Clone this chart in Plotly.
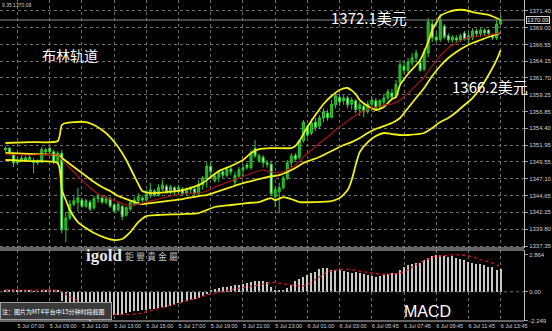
import plotly.graph_objects as go

# ---------------- data ----------------
opens = [1351.3, 1351.5, 1350.8, 1349.4, 1349.8, 1350.1, 1349.8, 1349.4, 1349.7, 1349.5,
         1351.3, 1351.5, 1351.0, 1349.5, 1350.8, 1339.7, 1341.4, 1343.4, 1343.7, 1344.0,
         1343.1, 1343.7, 1342.9, 1344.2, 1344.3, 1343.7, 1344.2, 1343.3, 1342.6, 1343.1,
         1341.8, 1342.7, 1343.4, 1343.9, 1344.3, 1344.0, 1344.7, 1345.3, 1344.7, 1345.6,
         1346.0, 1345.2, 1345.8, 1345.2, 1345.6, 1345.0, 1345.5, 1345.6, 1345.0, 1346.2,
         1347.1, 1348.9, 1346.8, 1347.3, 1348.1, 1347.6, 1348.5, 1346.6, 1347.5, 1348.4,
         1349.1, 1348.7, 1351.5, 1349.7, 1350.2, 1349.4, 1349.2, 1344.5, 1345.2, 1345.8,
         1347.2, 1349.4, 1350.5, 1350.2, 1352.6, 1354.6, 1353.7, 1355.3, 1354.7, 1355.9,
         1356.6, 1356.0, 1357.8, 1358.9, 1358.4, 1358.8, 1357.9, 1358.4, 1357.2, 1357.6,
         1356.9, 1357.9, 1358.4, 1357.5, 1358.2, 1358.8, 1359.5, 1359.1, 1361.0, 1363.4,
         1362.8, 1363.9, 1364.6, 1363.9, 1363.0, 1365.3, 1369.5, 1367.6, 1367.3, 1369.2,
         1367.8, 1367.2, 1367.5, 1367.2, 1368.2, 1367.3, 1367.6, 1368.5, 1368.1, 1368.6,
         1368.6, 1367.9, 1367.5, 1369.5]
closes = [1351.5, 1350.8, 1349.4, 1349.8, 1350.1, 1349.8, 1350.2, 1349.7, 1349.4, 1351.3,
          1351.0, 1351.0, 1349.5, 1350.8, 1339.7, 1341.4, 1343.4, 1343.9, 1344.3, 1343.1,
          1343.9, 1342.7, 1344.2, 1344.5, 1343.7, 1344.2, 1343.1, 1342.4, 1343.4, 1341.6,
          1342.9, 1343.6, 1344.0, 1344.5, 1344.0, 1344.9, 1345.5, 1344.7, 1345.8, 1346.2,
          1345.2, 1345.9, 1345.2, 1345.8, 1344.9, 1345.5, 1345.8, 1345.0, 1346.3, 1347.2,
          1348.9, 1348.1, 1347.5, 1348.1, 1347.6, 1348.5, 1348.1, 1347.6, 1348.4, 1348.7,
          1348.7, 1350.8, 1350.4, 1350.4, 1349.4, 1349.2, 1344.9, 1345.5, 1345.8, 1347.2,
          1349.4, 1350.4, 1349.9, 1352.6, 1355.3, 1353.4, 1355.2, 1354.5, 1355.9, 1356.8,
          1355.9, 1357.9, 1359.1, 1358.2, 1358.8, 1357.8, 1358.5, 1357.1, 1357.8, 1356.8,
          1357.9, 1358.5, 1357.3, 1358.4, 1358.8, 1359.7, 1358.9, 1360.8, 1363.6, 1362.8,
          1364.0, 1364.6, 1365.3, 1362.8, 1365.5, 1369.8, 1367.5, 1367.2, 1370.1, 1367.6,
          1367.2, 1367.6, 1367.2, 1367.8, 1367.3, 1367.8, 1368.5, 1368.1, 1368.6, 1368.2,
          1368.1, 1367.5, 1369.5, 1370.09]
highs = [1351.8, 1351.7, 1351.0, 1350.2, 1350.5, 1350.4, 1350.5, 1350.1, 1349.9, 1351.7,
         1351.5, 1351.8, 1351.3, 1351.1, 1351.3, 1342.3, 1344.0, 1344.5, 1345.8, 1344.3,
         1344.2, 1344.0, 1344.6, 1344.9, 1344.6, 1344.6, 1344.5, 1343.6, 1343.7, 1343.3,
         1343.1, 1343.9, 1344.5, 1345.0, 1344.7, 1345.5, 1346.5, 1345.6, 1346.3, 1346.9,
         1346.3, 1346.2, 1346.0, 1346.2, 1345.9, 1345.8, 1346.0, 1345.9, 1346.9, 1347.5,
         1349.5, 1349.5, 1347.9, 1348.4, 1348.4, 1348.9, 1348.8, 1348.1, 1348.8, 1349.2,
         1349.4, 1351.3, 1352.7, 1350.7, 1350.5, 1349.8, 1349.7, 1346.0, 1346.5, 1347.5,
         1349.8, 1350.8, 1350.8, 1352.7, 1355.6, 1354.9, 1355.8, 1355.9, 1356.3, 1357.3,
         1357.1, 1358.5, 1359.7, 1359.4, 1359.2, 1359.1, 1358.9, 1358.6, 1358.2, 1357.9,
         1358.4, 1358.9, 1358.8, 1358.6, 1359.4, 1360.1, 1360.1, 1361.4, 1364.3, 1364.0,
         1364.6, 1365.3, 1365.8, 1364.3, 1366.0, 1370.4, 1370.1, 1368.2, 1371.0, 1369.5,
         1368.2, 1367.9, 1367.9, 1368.1, 1368.5, 1368.2, 1368.9, 1368.8, 1368.9, 1368.9,
         1368.8, 1368.1, 1370.1, 1370.8]
lows = [1351.0, 1350.5, 1348.8, 1349.1, 1349.7, 1349.5, 1349.7, 1347.9, 1349.1, 1349.4,
        1350.5, 1350.8, 1349.2, 1349.1, 1339.2, 1337.9, 1341.1, 1343.1, 1342.3, 1342.9,
        1342.9, 1342.4, 1342.6, 1343.6, 1343.4, 1343.4, 1342.9, 1342.1, 1342.3, 1341.1,
        1341.6, 1342.4, 1343.1, 1343.6, 1343.7, 1343.7, 1344.3, 1344.5, 1344.5, 1345.3,
        1344.9, 1344.9, 1344.7, 1344.7, 1344.6, 1344.7, 1345.0, 1344.7, 1344.7, 1345.5,
        1345.8, 1347.5, 1346.5, 1346.6, 1347.2, 1347.3, 1347.6, 1345.9, 1347.2, 1347.3,
        1348.4, 1348.4, 1350.1, 1349.4, 1348.7, 1348.7, 1344.6, 1343.0, 1342.1, 1345.5,
        1346.9, 1348.8, 1349.7, 1349.9, 1352.3, 1353.1, 1353.4, 1354.0, 1354.3, 1355.3,
        1355.5, 1355.8, 1357.3, 1357.6, 1357.8, 1357.3, 1357.1, 1356.6, 1356.2, 1356.0,
        1356.5, 1357.5, 1356.9, 1357.1, 1357.6, 1358.4, 1358.5, 1358.8, 1360.7, 1362.3,
        1362.4, 1363.4, 1364.0, 1362.6, 1362.7, 1364.7, 1366.9, 1366.8, 1366.9, 1367.3,
        1366.8, 1366.8, 1366.9, 1366.9, 1367.1, 1366.6, 1367.2, 1367.6, 1367.6, 1367.8,
        1367.8, 1367.2, 1367.2, 1369.4]
bar_index = list(range(len(closes)))

# Bollinger bands / moving average (bar index, price)
upper_bars = [0, 6, 13, 14, 15, 17, 20, 22, 24, 26, 28, 30, 32, 33, 34, 36, 40, 44, 48, 49,
              51, 53, 56, 59, 61, 63, 66, 71, 72, 73, 74, 75, 77, 79, 81, 83, 85, 87, 88, 90,
              92, 94, 96, 97, 98, 100, 102, 103, 104, 105, 106, 107, 108, 110, 112, 114, 117, 120, 123]
upper_band = [1352.27, 1352.41, 1352.56, 1354.88, 1355.17, 1355.31, 1355.31, 1354.88, 1354.15, 1353.14,
              1351.69, 1349.81, 1347.49, 1346.33, 1345.31, 1345.02, 1345.17, 1345.46, 1346.18, 1346.47,
              1347.34, 1348.21, 1348.94, 1349.81, 1350.82, 1351.40, 1351.54, 1351.54, 1351.83, 1352.56,
              1353.57, 1354.59, 1356.33, 1357.92, 1359.08, 1359.95, 1360.24, 1359.37, 1358.50, 1357.63,
              1357.05, 1357.49, 1358.64, 1358.93, 1360.67, 1362.27, 1363.57, 1364.30, 1365.46, 1366.90,
              1368.64, 1369.66, 1370.67, 1371.25, 1371.54, 1371.54, 1371.11, 1370.82, 1370.09]
mid_bars = [0, 6, 13, 14, 16, 18, 20, 22, 24, 26, 28, 30, 32, 34, 36, 40, 44, 48, 50, 53,
            56, 59, 62, 65, 68, 70, 72, 74, 76, 78, 80, 82, 84, 86, 88, 90, 92, 94, 96, 98,
            100, 102, 104, 106, 108, 110, 112, 114, 116, 118, 120, 123]
mid_band = [1350.82, 1350.68, 1350.53, 1350.10, 1349.23, 1348.36, 1347.49, 1346.62, 1345.89, 1345.31,
            1344.59, 1344.15, 1343.72, 1343.43, 1343.57, 1343.86, 1344.15, 1344.59, 1344.73, 1345.31,
            1345.89, 1346.47, 1346.91, 1347.34, 1347.63, 1348.07, 1348.65, 1349.37, 1349.81, 1350.24,
            1350.82, 1351.40, 1351.98, 1352.41, 1352.99, 1353.72, 1354.30, 1354.73, 1355.17, 1355.89,
            1357.34, 1358.79, 1360.24, 1361.98, 1363.43, 1364.59, 1365.46, 1366.18, 1366.76, 1367.19,
            1367.63, 1368.21]
lower_bars = [0, 6, 13, 14, 15, 16, 18, 20, 22, 25, 27, 29, 31, 33, 35, 38, 44, 48, 50, 52,
              56, 60, 63, 65, 66, 67, 69, 71, 73, 77, 81, 83, 85, 86, 87, 88, 90, 92, 94, 96,
              98, 100, 104, 106, 108, 110, 112, 114, 116, 118, 120, 122, 123]
lower_band = [1349.81, 1349.66, 1349.37, 1345.46, 1344.01, 1342.56, 1340.82, 1339.95, 1339.23, 1338.50,
              1338.22, 1338.36, 1339.37, 1340.82, 1341.69, 1341.84, 1341.98, 1342.13, 1342.56, 1343.00,
              1343.29, 1343.57, 1343.72, 1344.15, 1344.30, 1344.01, 1344.44, 1344.15, 1343.72, 1343.72,
              1343.86, 1344.30, 1345.46, 1346.91, 1349.08, 1350.96, 1352.41, 1353.28, 1353.72, 1353.57,
              1353.43, 1353.43, 1353.72, 1354.44, 1355.31, 1355.89, 1356.76, 1357.78, 1358.79, 1360.24,
              1362.12, 1364.30, 1365.75]
ma_bars = [0, 6, 13, 14, 16, 18, 20, 22, 24, 26, 28, 30, 32, 34, 36, 40, 44, 48, 50, 52,
           54, 56, 58, 60, 62, 64, 66, 68, 70, 72, 74, 76, 78, 80, 82, 84, 86, 88, 90, 92,
           94, 96, 98, 100, 102, 104, 106, 108, 110, 112, 114, 116, 118, 120, 123]
ma_line = [1350.68, 1350.53, 1350.53, 1349.81, 1348.65, 1347.49, 1346.33, 1345.31, 1344.59, 1344.15,
           1343.72, 1343.29, 1343.29, 1343.57, 1343.86, 1344.44, 1344.88, 1345.02, 1345.31, 1345.89,
           1346.33, 1346.76, 1347.20, 1347.63, 1348.07, 1348.36, 1348.07, 1347.92, 1348.36, 1349.08,
           1350.24, 1351.25, 1352.27, 1353.14, 1354.15, 1355.02, 1355.89, 1356.62, 1357.20, 1357.49,
           1357.78, 1357.92, 1358.50, 1359.51, 1360.67, 1361.83, 1363.43, 1364.88, 1366.03, 1366.76,
           1367.34, 1367.63, 1367.77, 1367.92, 1368.21]

# MACD
macd_hist = [0.15, 0.15, 0.1, 0.08, 0.08, 0.08, 0.08, 0.05, 0.05, 0.1, 0.12, 0.12, 0.08, 0.1,
             -0.75, -1.2, -1.55, -1.8, -1.95, -2.1, -2.2, -2.249, -2.2, -2.15, -2.05, -1.95, -1.85,
             -1.8, -1.77, -1.7, -1.64, -1.58, -1.52, -1.47, -1.42, -1.38, -1.33, -1.3, -1.24, -1.2,
             -1.15, -1.07, -1.0, -0.9, -0.8, -0.72, -0.62, -0.55, -0.45, -0.35, -0.2,
             0.12, 0.22, 0.31, 0.36, 0.4, 0.46, 0.5, 0.55, 0.62, 0.7, 0.77, 0.82, 0.85, 0.8, 0.72,
             0.35, 0.12, 0.1, 0.15, 0.31, 0.54, 0.8, 1.0, 1.15, 1.31, 1.46, 1.54, 1.75, 1.85,
             1.8, 1.72, 1.65, 1.69, 1.6, 1.54, 1.46, 1.5, 1.46, 1.4, 1.33, 1.25, 1.18, 1.23, 1.3,
             1.38, 1.42, 1.46, 1.7, 1.9,
             2.05, 2.15, 2.23, 2.25, 2.46, 2.62, 2.8, 2.864, 2.85, 2.78, 2.7, 2.75, 2.65, 2.55,
             2.46, 2.3, 2.2, 2.15, 2.12, 2.08, 1.95, 1.88, 1.7, 1.75]
signal_bars = [0, 7, 13, 15, 17, 19, 21, 23, 25, 27, 30, 33, 35, 38, 40, 43, 45, 48, 50, 53,
               56, 58, 61, 64, 66, 67, 69, 72, 74, 77, 79, 81, 84, 86, 89, 91, 94, 96, 99, 101,
               103, 106, 108, 111, 113, 116, 118, 121, 123]
signal_line = [0.15, 0.12, 0.1, -0.2, -0.55, -0.85, -1.15, -1.4, -1.6, -1.72, -1.77, -1.68, -1.55, -1.3,
               -1.12, -0.9, -0.7, -0.45, -0.25, -0.05, 0.15, 0.28, 0.42, 0.6, 0.7, 0.72, 0.62, 0.48,
               0.46, 0.95, 1.35, 1.6, 1.75, 1.7, 1.55, 1.46, 1.33, 1.38, 1.55, 1.9, 2.25, 2.65, 2.77,
               2.85, 2.85, 2.7, 2.48, 2.22, 1.95]

# axes labels
time_label_bars = [3, 11, 19, 27, 35, 43, 51, 59, 67, 75, 83, 91, 99, 107, 115, 123]
time_labels = ["5 Jul 07:00", "5 Jul 09:00", "5 Jul 11:00", "5 Jul 13:00", "5 Jul 15:00",
               "5 Jul 17:00", "5 Jul 19:00", "5 Jul 21:00", "5 Jul 23:00", "6 Jul 01:00",
               "6 Jul 03:00", "6 Jul 05:45", "6 Jul 07:45", "6 Jul 09:45", "6 Jul 11:45",
               "6 Jul 13:45"]
price_ticks = [1337.35, 1339.80, 1342.25, 1344.65, 1347.10, 1349.55, 1351.95, 1354.40,
               1356.85, 1359.25, 1361.70, 1364.15, 1366.55, 1369.00, 1371.40]
price_tick_text = ["1337.35", "1339.80", "1342.25", "1344.65", "1347.10", "1349.55", "1351.95",
                   "1354.40", "1356.85", "1359.25", "1361.70", "1364.15", "1366.55", "1369.00",
                   "1371.40"]
macd_ticks = [2.864, 0.0, -2.249]
macd_tick_text = ["2.864", "0.00", "-2.249"]
last_price = closes[-1]

# ---------------- figure ----------------
W, H = 552, 331
ML, MR, MT, MB = 0, 22, 0, 10
PW, PH = W - ML - MR, H - MT - MB

def px(xp):
    return xp / PW

def py(yp):
    return 1 - yp / PH

GRID = "#6c6c6c"
YEL = "#f0f018"
TXT = "#d0d0d0"
FONT = "Liberation Sans"

fig = go.Figure()
fig.add_trace(go.Candlestick(
    x=bar_index, open=opens, high=highs, low=lows, close=closes,
    xaxis="x", yaxis="y", whiskerwidth=0,
    increasing=dict(line=dict(color="#2ecc2e", width=1), fillcolor="#1e9e1e"),
    decreasing=dict(line=dict(color="#2ecc2e", width=1), fillcolor="#ffffff"),
    showlegend=False, hoverinfo="skip"))
for xs, ys, col, w in [(upper_bars, upper_band, YEL, 1.8), (lower_bars, lower_band, YEL, 1.8),
                       (mid_bars, mid_band, YEL, 1.8), (ma_bars, ma_line, "#b01414", 1.1)]:
    fig.add_trace(go.Scatter(x=xs, y=ys, mode="lines", xaxis="x", yaxis="y",
                             line=dict(color=col, width=w, shape="spline", smoothing=0.6),
                             showlegend=False, hoverinfo="skip"))
fig.add_trace(go.Bar(x=bar_index, y=macd_hist, xaxis="x2", yaxis="y2", width=0.3,
                     marker=dict(color="#c8c8c8", line=dict(width=0)),
                     showlegend=False, hoverinfo="skip"))
fig.add_trace(go.Scatter(x=signal_bars, y=signal_line, mode="lines", xaxis="x2", yaxis="y2",
                         line=dict(color="#e01818", width=1.2, dash="dot", shape="spline"),
                         showlegend=False, hoverinfo="skip"))

xr = [-1.35, 128.8]
main_dom = [1 - 248 / PH, 1]
macd_dom = [0, 1 - 250 / PH]

fig.update_layout(
    width=W, height=H, margin=dict(l=ML, r=MR, t=MT, b=MB),
    paper_bgcolor="black", plot_bgcolor="black", showlegend=False,
    font=dict(family=FONT, color=TXT),
    bargap=0,
    xaxis=dict(domain=[0, 1], range=xr, anchor="y", tickvals=time_label_bars,
               showticklabels=False, ticks="", showgrid=True, gridcolor=GRID,
               griddash="dot", gridwidth=1, zeroline=False,
               rangeslider=dict(visible=False), fixedrange=True),
    xaxis2=dict(domain=[0, 1], range=xr, anchor="y2", matches="x", tickvals=time_label_bars,
                ticktext=time_labels, ticklabelposition="outside right", tickangle=0,
                tickfont=dict(size=5.5, color=TXT, family=FONT), ticks="",
                showgrid=True, gridcolor=GRID, griddash="dot", gridwidth=1, zeroline=False),
    yaxis=dict(domain=main_dom, range=[1337.06, 1372.99], side="right", anchor="x",
               tickvals=price_ticks, ticktext=price_tick_text,
               tickfont=dict(size=6, color=TXT, family=FONT),
               ticks="outside", ticklen=3, tickcolor="#a0a0a0",
               showgrid=True, gridcolor=GRID, griddash="dot", gridwidth=1, zeroline=False,
               showline=True, linecolor="#bdbdbd", linewidth=1),
    yaxis2=dict(domain=macd_dom, range=[-2.26, 3.23], side="right", anchor="x2",
                tickvals=macd_ticks, ticktext=macd_tick_text,
                tickfont=dict(size=6, color=TXT, family=FONT),
                ticks="outside", ticklen=3, tickcolor="#a0a0a0",
                showgrid=False, zeroline=False, showline=True, linecolor="#bdbdbd", linewidth=1),
)

shapes = [
    dict(type="line", xref="paper", yref="y domain", x0=0, x1=1, y0=0, y1=0,
         line=dict(color="#c8c8c8", width=1)),
    dict(type="line", xref="paper", yref="y2 domain", x0=0, x1=1, y0=1, y1=1,
         line=dict(color="#c8c8c8", width=1)),
    dict(type="line", xref="paper", yref="y2 domain", x0=0, x1=1, y0=0, y1=0,
         line=dict(color="#c8c8c8", width=1)),
    dict(type="line", xref="paper", yref="y2", x0=0, x1=1, y0=0, y1=0,
         line=dict(color=GRID, width=1, dash="dot")),
    dict(type="line", xref="paper", yref="y", x0=0, x1=1, y0=last_price, y1=last_price,
         line=dict(color="#8a8a8a", width=1)),
]
fig.update_layout(shapes=shapes)

ann = [
    dict(text="9.35 1370.09", x=px(0), y=1, xanchor="left", yanchor="top",
         font=dict(size=5, color=TXT)),
    dict(text=f"{last_price:.2f}", x=1.0, xanchor="left", xshift=2, y=last_price, yref="y",
         font=dict(size=6, color="#e8e8e8"), bgcolor="black", bordercolor="#d8d8d8",
         borderwidth=1, borderpad=0),
    dict(text="布林轨道", x=px(40), y=py(55), xanchor="left", yanchor="middle",
         font=dict(size=14, color="white", family="Noto Sans CJK SC")),
    dict(text="1372.1美元", x=px(333), y=py(17), xanchor="left", yanchor="middle",
         font=dict(size=15, color="white", family="Noto Sans CJK SC")),
    dict(text="1366.2美元", x=px(455), y=py(87), xanchor="left", yanchor="middle",
         font=dict(size=15, color="white", family="Noto Sans CJK SC")),
    dict(text="MACD", x=px(407), y=py(311), xanchor="left", yanchor="middle",
         font=dict(size=16, color="white", family="Liberation Sans")),
    dict(text="<b>igold</b>", x=px(85), y=py(255), xanchor="left", yanchor="middle",
         font=dict(size=17, color="#e6e6e6", family="Liberation Serif")),
    dict(text="鉅 豐 貴 金 屬", x=px(124), y=py(256), xanchor="left", yanchor="middle",
         font=dict(size=9, color="#bdbdbd", family="Noto Sans CJK TC")),
    dict(text="注：图片为MT4平台中15分钟时段截图", x=px(0), y=py(310.5), xanchor="left",
         yanchor="middle", width=108, height=14, align="left",
         font=dict(size=6, color="white", family="Noto Sans CJK SC"),
         bgcolor="#3a3a3a", bordercolor="#a0a0a0", borderwidth=1, borderpad=1),
]
for a in ann:
    a.setdefault("xref", "paper")
    a.setdefault("yref", "paper")
    a["showarrow"] = False
fig.update_layout(annotations=ann)

fig.write_html("out.html")
